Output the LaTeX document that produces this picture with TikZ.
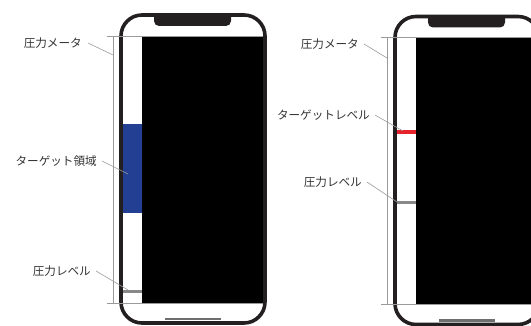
\documentclass[tikz,border=0pt]{standalone}
\usepackage{fontspec}
\setmainfont{Noto Sans CJK JP}
\begin{document}
\begin{tikzpicture}[x=1pt,y=-1pt]
\definecolor{framec}{HTML}{231F20}
\definecolor{bluez}{HTML}{233F94}
\definecolor{redl}{HTML}{E8222A}
\definecolor{grayl}{HTML}{9A9A9A}
\definecolor{barc}{HTML}{888888}
\definecolor{homec}{HTML}{6E6E6E}
\definecolor{txt}{HTML}{333333}
\tikzset{
  lbl/.style={anchor=east,inner sep=0pt,text=txt,font=\fontsize{11.6}{12}\selectfont},
  leader/.style={draw=grayl,line width=0.6pt},
  guide/.style={draw=grayl,line width=0.7pt},
  framestyle/.style={draw=framec,line width=3.6pt,rounded corners=21pt},
  homebar/.style={draw=homec,line width=2.2pt},
}
\useasboundingbox (0,0) rectangle (531,326);
\foreach \ox/\oy/\nm in {0/0/L,274/1.5/R}{
\begin{scope}[shift={(\ox,\oy)}]
  \begin{scope}
    \clip[rounded corners=21pt] (121,15) rectangle (265,323);
    \fill[black] (141.5,36.5) rectangle (266,303);
    \fill[framec,rounded corners=5pt] (154,5) -- (154,26) -- (231,26) -- (231,5) -- cycle;
  \end{scope}
  \draw[framestyle] (121,15) rectangle (265,323);
  \draw[homebar] (165,319) -- (221,319);
  \coordinate (\nm top) at (113,36);
  \coordinate (\nm bot) at (113,303);
  \draw[guide] (107,36) -- (263,36);
  \draw[guide] (107,303) -- (263,303);
  \draw[guide] (\nm top) -- (\nm bot);
\end{scope}
}
% ---------- left phone contents ----------
\fill[bluez] (123,124) rectangle (141.5,213);
\fill[barc] (123,290.5) rectangle (141.5,293.5);
\node[lbl] (l1) at (82,43) {圧力メータ};
\node[lbl] (l2) at (97,161) {ターゲット領域};
\node[lbl] (l3) at (91,271) {圧力レベル};
\coordinate (p1) at (113,55);
\coordinate (p2) at (128,174);
\coordinate (p3) at (128,290);
\draw[leader] ([xshift=6pt]l1.east) -- (p1);
\draw[leader] ([xshift=5pt]l2.east) -- (p2);
\draw[leader] ([xshift=5pt]l3.east) -- (p3);
% ---------- right phone contents ----------
\fill[redl] (397,130) rectangle (415.5,134);
\fill[barc] (397,201.5) rectangle (415.5,204.5);
\node[lbl] (r1) at (359,44) {圧力メータ};
\node[lbl] (r2) at (370,115) {ターゲットレベル};
\node[lbl] (r3) at (362,182) {圧力レベル};
\coordinate (q1) at (387,58);
\coordinate (q2) at (403,131);
\coordinate (q3) at (397,202);
\draw[leader] ([xshift=5pt]r1.east) -- (q1);
\draw[leader] ([xshift=5pt]r2.east) -- (q2);
\draw[leader] ([xshift=5pt]r3.east) -- (q3);
\end{tikzpicture}
\end{document}
